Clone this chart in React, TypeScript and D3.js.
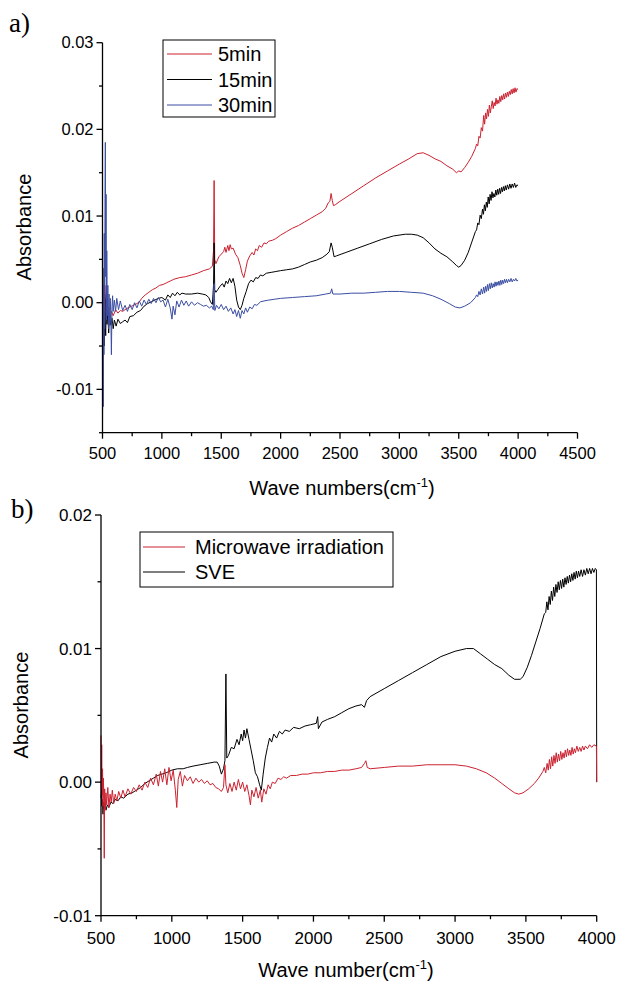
import React from "react";
import * as d3 from "d3";

// ---------- Data (absorbance in units of 1e-3) ----------
const seriesA_names = ["5min", "15min", "30min"];
const seriesB_names = ["Microwave irradiation", "SVE"];

const red5min: [number, number][] = [
  [500,-3],[510,1],[520,-2],[530,2],[540,-1.5],[550,-0.5],[560,-2],[575,-1],[590,-1.5],[610,-0.8],[630,-1.2],[650,-0.9],[670,-1],[700,-0.7],[730,-0.5],[760,-0.3],[790,-0.1],[810,0.1],[830,0.5],[860,0.9],[890,1.2],[920,1.5],[950,1.7],[980,2.0],[1010,2.1],[1040,2.3],[1070,2.5],[1100,2.7],[1150,2.9],[1200,3.0],[1250,3.2],[1300,3.4],[1350,3.7],[1400,3.9],[1425,4.2],[1435,6],[1440,14.1],[1445,5],[1455,4.5],[1480,5.3],[1500,5.6],[1520,5.9],[1530,6.4],[1540,5.8],[1555,6.6],[1565,6.0],[1575,6.7],[1585,6.2],[1600,6.3],[1620,5.6],[1640,5.2],[1660,4.3],[1675,3.4],[1690,2.9],[1705,3.8],[1720,4.8],[1740,5.4],[1760,5.8],[1775,5.5],[1790,6.2],[1805,6.0],[1820,6.6],[1840,6.4],[1860,6.9],[1880,6.8],[1900,7.1],[1930,7.2],[1960,7.4],[2000,7.8],[2050,8.2],[2100,8.6],[2150,8.9],[2200,9.3],[2250,9.7],[2300,10.1],[2350,10.5],[2380,10.9],[2400,11.5],[2415,11.7],[2425,12.6],[2435,11.8],[2445,11.2],[2460,11.3],[2500,11.7],[2600,12.6],[2700,13.5],[2800,14.4],[2900,15.2],[3000,16.0],[3080,16.6],[3150,17.2],[3200,17.3],[3250,17.0],[3300,16.6],[3350,16.3],[3400,15.8],[3450,15.4],[3480,15.0],[3500,15.2],[3520,15.1],[3550,15.6],[3580,16.2],[3610,16.9],
  [3640,17.8],[3650,18.3],[3660,18.1],[3670,19.2],[3680,19.0],[3690,20.2],[3700,19.8],[3710,21.6],[3718,20.6],[3726,21.9],[3734,21.2],[3742,22.3],[3750,21.5],[3758,22.8],[3766,21.9],[3774,22.6],[3782,23.3],[3790,22.4],[3798,23.1],[3806,22.7],[3814,23.6],[3822,22.9],[3830,23.4],[3838,23.0],[3846,23.8],[3854,23.2],[3862,23.9],[3870,23.4],[3878,24.1],[3886,23.5],[3894,24.2],[3902,23.7],[3910,24.3],[3918,23.8],[3926,24.4],[3934,24.0],[3942,24.6],[3950,24.1],[3958,24.7],[3966,24.2],[3974,24.8],[3982,24.3],[3990,24.7],[4000,24.6]
];

const black15min: [number, number][] = [
  [500,-4],[503,4],[506,-3],[510,2],[514,-5],[518,1],[522,-2],[527,-3.8],[532,0.5],[538,-2.5],[545,-1],[552,-3.5],[560,-1.5],[570,-2.6],[580,-1.8],[590,-3],[600,-2],[615,-2.7],[630,-1.9],[650,-2.4],[670,-2.2],[690,-2.0],[710,-2.3],[730,-1.6],[760,-1.5],[790,-1.1],[820,-0.9],[850,-0.4],[880,-0.1],[910,0.1],[940,0.3],[970,0.5],[1000,0.6],[1030,0.3],[1050,0.9],[1070,0.6],[1090,1.1],[1110,0.8],[1130,1.2],[1150,0.9],[1170,1.1],[1200,1.0],[1250,1.0],[1300,1.1],[1340,1.0],[1370,0.9],[1395,0.6],[1410,0.1],[1425,-0.2],[1435,2],[1440,6.9],[1445,1.5],[1455,1.2],[1470,1.5],[1490,1.9],[1510,2.2],[1525,1.8],[1540,2.5],[1555,2.2],[1570,2.8],[1585,2.3],[1600,2.8],[1615,1.9],[1630,0.3],[1645,-0.5],[1660,-0.8],[1675,-0.3],[1690,0.5],[1710,1.3],[1730,2.2],[1750,2.6],[1770,2.4],[1790,2.9],[1810,2.8],[1830,3.2],[1850,3.1],[1880,3.4],[1920,3.5],[1960,3.6],[2000,3.7],[2050,3.8],[2100,3.9],[2150,4.1],[2200,4.4],[2250,4.7],[2300,4.9],[2350,5.2],[2390,5.6],[2410,5.9],[2425,6.9],[2435,6.4],[2450,5.3],[2470,5.4],[2550,5.8],[2650,6.3],[2750,6.8],[2850,7.3],[2950,7.7],[3050,7.9],[3100,7.9],[3150,7.8],[3200,7.5],[3250,6.9],[3300,6.2],[3350,5.7],[3400,5.3],[3450,4.7],[3480,4.3],[3500,4.1],[3520,4.3],[3550,4.9],[3580,5.8],[3610,7.0],
  [3640,8.2],[3650,8.4],[3660,9.2],[3670,9.0],[3680,10.1],[3690,9.7],[3700,10.8],[3708,10.2],[3716,11.3],[3724,10.6],[3732,11.6],[3740,11.0],[3748,12.2],[3756,11.4],[3764,12.5],[3772,11.8],[3780,12.8],[3788,12.1],[3796,12.6],[3804,12.2],[3812,13.0],[3820,12.4],[3828,13.1],[3836,12.5],[3844,13.2],[3852,12.6],[3860,13.3],[3868,12.8],[3876,13.4],[3884,12.9],[3892,13.5],[3900,13.0],[3910,13.6],[3920,13.1],[3930,13.7],[3940,13.2],[3950,13.7],[3960,13.3],[3970,13.8],[3980,13.3],[3990,13.6],[4000,13.5]
];

const blue30min: [number, number][] = [
  [500,-14],[503,-4],[506,-12],[509,2],[512,-6],[515,8],[518,-3],[521,12],[524,18.5],[527,3],[530,12.5],[533,-2],[536,6],[540,-1.5],[545,2],[550,-3],[555,1],[560,-2.5],[565,0.5],[570,-1.5],[575,-6],[580,-0.5],[585,0.8],[590,-1],[600,0.3],[610,-1],[620,0.5],[635,-0.8],[650,0.2],[670,-0.9],[690,-0.3],[710,-1.0],[730,-0.2],[750,-0.8],[770,0.0],[790,-0.6],[810,0.2],[830,-0.4],[850,0.3],[870,-0.2],[890,0.4],[910,-0.1],[930,0.5],[950,0.0],[970,0.6],[990,0.1],[1010,0.3],[1030,-0.5],[1050,0.4],[1070,-0.6],[1085,-1.9],[1095,-0.4],[1110,-1.4],[1125,0.2],[1145,-0.5],[1165,0.3],[1185,-0.3],[1205,0.2],[1225,-0.4],[1250,0.1],[1275,-0.3],[1300,0.0],[1325,-0.2],[1350,-0.4],[1375,-0.3],[1400,-0.6],[1420,-0.4],[1433,-0.8],[1440,2.2],[1446,-0.9],[1460,-0.3],[1480,-0.7],[1500,-0.2],[1520,-0.8],[1540,-0.4],[1560,-1.0],[1580,-0.6],[1600,-1.3],[1615,-0.8],[1630,-1.6],[1645,-0.9],[1660,-1.8],[1675,-0.9],[1690,-1.3],[1705,-0.6],[1720,-1.1],[1740,-0.5],[1760,-0.7],[1780,-0.2],[1800,-0.3],[1830,0.1],[1860,0.2],[1900,0.3],[1950,0.4],[2000,0.5],[2100,0.6],[2200,0.7],[2300,0.8],[2380,1.0],[2420,1.1],[2430,1.6],[2440,1.0],[2500,1.0],[2600,1.1],[2700,1.1],[2800,1.2],[2900,1.3],[3000,1.3],[3100,1.2],[3200,1.1],[3280,0.8],[3350,0.4],[3420,-0.1],[3470,-0.5],[3510,-0.6],[3550,-0.4],[3600,0.0],
  [3640,0.6],[3650,0.9],[3660,0.7],[3670,1.3],[3680,0.9],[3690,1.6],[3700,1.0],[3710,1.8],[3718,1.1],[3726,1.9],[3734,1.3],[3742,2.1],[3750,1.4],[3758,2.2],[3766,1.6],[3774,2.3],[3782,1.7],[3790,2.2],[3798,1.8],[3806,2.4],[3814,1.9],[3822,2.4],[3830,2.0],[3838,2.5],[3846,2.0],[3854,2.6],[3862,2.1],[3870,2.6],[3878,2.2],[3886,2.7],[3894,2.3],[3902,2.7],[3910,2.3],[3920,2.7],[3930,2.4],[3940,2.8],[3950,2.4],[3960,2.7],[3970,2.5],[3980,2.8],[3990,2.5],[4000,2.6]
];

const blackSVE: [number, number][] = [
  [500,-1.2],[503,-0.5],[506,-1.8],[510,-1.3],[514,-2.4],[518,-1.5],[522,-2.0],[528,-1.6],[535,-2.1],[545,-1.7],[555,-1.9],[570,-1.5],[585,-1.6],[600,-1.3],[620,-1.4],[640,-1.1],[660,-1.2],[690,-0.9],[720,-0.8],[750,-0.6],[780,-0.4],[810,-0.1],[840,0.1],[870,0.3],[900,0.5],[930,0.6],[960,0.7],[1000,0.9],[1040,1.0],[1080,1.0],[1110,1.1],[1150,1.2],[1200,1.3],[1250,1.4],[1300,1.5],[1320,1.5],[1335,1.2],[1350,0.6],[1365,1.0],[1375,1.6],[1382,8.1],[1388,1.8],[1400,2.0],[1420,2.6],[1440,2.5],[1460,3.2],[1475,2.8],[1490,3.6],[1500,3.1],[1510,3.9],[1520,3.3],[1530,4.0],[1545,3.2],[1560,2.4],[1575,1.6],[1590,0.7],[1605,0.4],[1620,-0.2],[1632,-0.6],[1645,0.6],[1660,1.8],[1675,2.6],[1690,3.3],[1705,3.0],[1720,3.6],[1740,3.3],[1760,3.8],[1780,3.6],[1800,3.9],[1830,3.8],[1860,4.1],[1900,4.0],[1940,4.2],[1980,4.3],[2020,4.4],[2030,4.9],[2035,4.0],[2060,4.5],[2100,4.7],[2150,4.9],[2200,5.2],[2250,5.5],[2300,5.7],[2340,5.8],[2360,5.6],[2375,6.1],[2400,6.4],[2500,7.0],[2600,7.6],[2700,8.2],[2800,8.8],[2900,9.4],[3000,9.8],[3080,10.0],[3130,10.0],[3180,9.6],[3230,9.2],[3280,8.8],[3330,8.5],[3380,8.0],[3420,7.7],[3460,7.7],[3480,7.9],[3510,8.6],[3540,9.5],[3570,10.5],[3600,11.5],
  [3630,12.6],[3640,12.7],[3648,13.5],[3656,12.9],[3664,13.9],[3672,13.3],[3680,14.3],[3688,13.6],[3696,14.6],[3704,13.9],[3712,14.8],[3720,14.2],[3728,15.0],[3736,14.4],[3744,15.1],[3752,14.5],[3760,15.2],[3768,14.6],[3776,15.3],[3784,14.8],[3792,15.4],[3800,14.9],[3808,15.5],[3816,15.0],[3824,15.6],[3832,15.1],[3840,15.7],[3848,15.2],[3856,15.8],[3864,15.3],[3872,15.8],[3880,15.4],[3890,15.9],[3900,15.4],[3910,15.9],[3920,15.5],[3930,16.0],[3940,15.6],[3950,16.0],[3960,15.6],[3970,16.0],[3980,15.7],[3990,16.0],[3998,15.9],[4000,0]
];

const redMW: [number, number][] = [
  [500,3.5],[502,-0.5],[505,2.8],[508,-1],[511,1],[514,-1.8],[517,0.3],[520,-1.2],[523,-5.7],[526,-0.5],[530,-2.1],[535,-0.8],[540,-1.7],[548,-0.4],[556,-1.9],[564,-0.9],[572,-1.5],[580,-0.6],[590,-1.6],[600,-0.9],[612,-1.4],[625,-0.7],[640,-1.2],[655,-0.6],[670,-1.1],[690,-0.5],[710,-0.9],[730,-0.4],[750,-0.7],[770,-0.2],[790,-0.6],[810,0.0],[830,-0.4],[850,0.3],[870,-0.2],[890,0.6],[905,-0.3],[920,0.8],[935,0.0],[950,1.0],[965,-0.2],[980,1.1],[995,0.1],[1010,0.9],[1025,-0.6],[1035,-1.9],[1045,0.2],[1060,0.8],[1075,-0.3],[1090,0.5],[1110,0.1],[1130,0.4],[1150,-0.1],[1170,0.3],[1190,0.0],[1210,0.2],[1230,-0.1],[1250,0.1],[1270,-0.2],[1290,-0.1],[1310,-0.4],[1330,-0.5],[1350,-0.7],[1365,-0.4],[1375,1.3],[1382,-0.2],[1395,-0.8],[1410,-0.1],[1425,-0.7],[1440,0.0],[1455,-0.6],[1470,0.2],[1485,-0.5],[1500,0.0],[1515,-0.7],[1530,-0.2],[1545,-1.0],[1555,-1.7],[1565,-0.6],[1580,-1.1],[1595,-0.4],[1610,-1.2],[1625,-0.6],[1635,-1.5],[1650,-0.5],[1665,-0.9],[1680,-0.2],[1695,-0.5],[1710,0.0],[1730,-0.1],[1750,0.3],[1770,0.2],[1790,0.4],[1810,0.3],[1840,0.5],[1880,0.5],[1920,0.6],[1960,0.6],[2000,0.7],[2050,0.7],[2100,0.8],[2150,0.8],[2200,0.9],[2250,0.9],[2300,1.0],[2340,1.1],[2360,1.4],[2370,1.6],[2380,1.1],[2400,1.0],[2500,1.1],[2600,1.2],[2700,1.2],[2800,1.3],[2900,1.3],[3000,1.3],[3080,1.2],[3150,1.0],[3220,0.7],[3280,0.3],[3330,-0.1],[3380,-0.5],[3420,-0.8],[3450,-0.9],[3480,-0.8],[3520,-0.5],[3560,-0.1],[3590,0.3],
  [3620,0.8],[3630,1.1],[3640,0.7],[3650,1.4],[3658,0.9],[3666,1.7],[3674,1.0],[3682,1.9],[3690,1.2],[3698,2.0],[3706,1.4],[3714,2.2],[3722,1.5],[3730,2.1],[3738,1.6],[3746,2.3],[3754,1.7],[3762,2.2],[3770,1.8],[3778,2.4],[3786,1.9],[3794,2.5],[3802,2.0],[3810,2.4],[3818,2.0],[3826,2.6],[3834,2.1],[3842,2.5],[3850,2.2],[3860,2.7],[3870,2.3],[3880,2.6],[3890,2.3],[3900,2.7],[3910,2.4],[3920,2.7],[3935,2.5],[3950,2.8],[3965,2.6],[3980,2.8],[3998,2.7],[4000,0]
];

const xTicksA = [500, 1000, 1500, 2000, 2500, 3000, 3500, 4000, 4500];
const xTicksB = [500, 1000, 1500, 2000, 2500, 3000, 3500, 4000];
const yTicksA = [-10, 0, 10, 20, 30];
const yTicksB = [-10, 0, 10, 20];

const RED = "#cc2230";
const BLUE = "#3b4ea3";
const BLACK = "#000000";
const SANS = "'Liberation Sans', Arial, sans-serif";
const SERIF = "'Liberation Serif', 'Times New Roman', serif";

type PanelProps = {
  xDomain: [number, number];
  xRange: [number, number];
  yDomain: [number, number];
  yRange: [number, number];
  xTicks: number[];
  yTicks: number[];
  series: { data: [number, number][]; color: string }[];
  tickFont: number;
  labelBaseline: number;
  title: string;
  titleX: number;
  titleY: number;
  absX: number;
  absY: number;
};

function Panel(p: PanelProps) {
  const x = d3.scaleLinear().domain(p.xDomain).range(p.xRange);
  const y = d3.scaleLinear().domain(p.yDomain).range(p.yRange);
  const line = d3
    .line<[number, number]>()
    .x((d) => x(d[0]))
    .y((d) => y(d[1]));
  const x0 = p.xRange[0];
  const yBottom = p.yRange[0];
  const minorX: number[] = [];
  for (let i = 0; i < p.xTicks.length - 1; i++) minorX.push((p.xTicks[i] + p.xTicks[i + 1]) / 2);
  const minorY: number[] = [];
  for (let i = 0; i < p.yTicks.length - 1; i++) minorY.push((p.yTicks[i] + p.yTicks[i + 1]) / 2);
  if (p.yDomain[0] < p.yTicks[0]) minorY.push(p.yTicks[0] - 5);
  return (
    <g>
      <g>
        {p.series.map((s, i) => (
          <path key={i} d={line(s.data) || ""} fill="none" stroke={s.color} strokeWidth={1} strokeLinejoin="round" />
        ))}
      </g>
      <line x1={x0} x2={x0} y1={p.yRange[1]} y2={yBottom} stroke="#000" strokeWidth={1.3} />
      <line x1={x0} x2={p.xRange[1]} y1={yBottom} y2={yBottom} stroke="#000" strokeWidth={1.3} />
      {p.xTicks.map((t) => (
        <g key={"xt" + t}>
          <line x1={x(t)} x2={x(t)} y1={yBottom} y2={yBottom + 6} stroke="#000" strokeWidth={1.3} />
          <text x={x(t)} y={p.labelBaseline} textAnchor="middle" fontFamily={SANS} fontSize={p.tickFont}>
            {t}
          </text>
        </g>
      ))}
      {minorX.map((t) => (
        <line key={"xm" + t} x1={x(t)} x2={x(t)} y1={yBottom} y2={yBottom + 3.5} stroke="#000" strokeWidth={1.3} />
      ))}
      {p.yTicks.map((t) => (
        <g key={"yt" + t}>
          <line x1={x0 - 6} x2={x0} y1={y(t)} y2={y(t)} stroke="#000" strokeWidth={1.3} />
          <text x={x0 - 9} y={y(t)} dy="0.35em" textAnchor="end" fontFamily={SANS} fontSize={p.tickFont}>
            {(t / 1000).toFixed(2)}
          </text>
        </g>
      ))}
      {minorY.map((t) => (
        <line key={"ym" + t} x1={x0 - 3.5} x2={x0} y1={y(t)} y2={y(t)} stroke="#000" strokeWidth={1.3} />
      ))}
      <text x={p.titleX} y={p.titleY} textAnchor="middle" fontFamily={SANS} fontSize={20}>
        {p.title}
        <tspan fontSize={13} dy={-8}>-1</tspan>
        <tspan dy={8}>)</tspan>
      </text>
      <text
        transform={`translate(${p.absX},${p.absY}) rotate(-90)`}
        textAnchor="middle"
        fontFamily={SANS}
        fontSize={20}
      >
        Absorbance
      </text>
    </g>
  );
}

function Legend({ x, y, w, h, rows, rowY, lineX1, lineX2, textX }: {
  x: number; y: number; w: number; h: number;
  rows: { name: string; color: string }[];
  rowY: number[]; lineX1: number; lineX2: number; textX: number;
}) {
  return (
    <g>
      <rect x={x} y={y} width={w} height={h} fill="#fff" stroke="#000" strokeWidth={1} />
      {rows.map((r, i) => (
        <g key={r.name}>
          <line x1={lineX1} x2={lineX2} y1={rowY[i]} y2={rowY[i]} stroke={r.color} strokeWidth={1.2} />
          <text x={textX} y={rowY[i]} dy="0.36em" fontFamily={SANS} fontSize={20}>
            {r.name}
          </text>
        </g>
      ))}
    </g>
  );
}

export default function App() {
  return (
    <svg width={617} height={981} style={{ position: "absolute", left: 0, top: 0, background: "#fff" }}>
      <text x={9} y={32} fontFamily={SERIF} fontSize={27}>a)</text>
      <text x={11} y={518} fontFamily={SERIF} fontSize={27}>b)</text>
      <Panel
        xDomain={[500, 4500]}
        xRange={[102.5, 577.5]}
        yDomain={[-15, 30]}
        yRange={[432.7, 42.7]}
        xTicks={xTicksA}
        yTicks={yTicksA}
        series={[
          { data: red5min, color: RED },
          { data: black15min, color: BLACK },
          { data: blue30min, color: BLUE },
        ]}
        tickFont={16.5}
        labelBaseline={459}
        title="Wave numbers(cm"
        titleX={342}
        titleY={495}
        absX={31}
        absY={227}
      />
      <Legend
        x={163} y={40} w={112} h={77}
        rows={[
          { name: seriesA_names[0], color: RED },
          { name: seriesA_names[1], color: BLACK },
          { name: seriesA_names[2], color: BLUE },
        ]}
        rowY={[54, 79.5, 105]}
        lineX1={167} lineX2={212} textX={218}
      />
      <Panel
        xDomain={[500, 4000]}
        xRange={[101, 596.7]}
        yDomain={[-10, 20]}
        yRange={[915.7, 515]}
        xTicks={xTicksB}
        yTicks={yTicksB}
        series={[
          { data: blackSVE, color: BLACK },
          { data: redMW, color: RED },
        ]}
        tickFont={17}
        labelBaseline={944}
        title="Wave number(cm"
        titleX={346}
        titleY={977}
        absX={28}
        absY={705}
      />
      <Legend
        x={140} y={532} w={253} h={55}
        rows={[
          { name: seriesB_names[0], color: RED },
          { name: seriesB_names[1], color: BLACK },
        ]}
        rowY={[547, 572]}
        lineX1={143} lineX2={185} textX={195}
      />
    </svg>
  );
}
